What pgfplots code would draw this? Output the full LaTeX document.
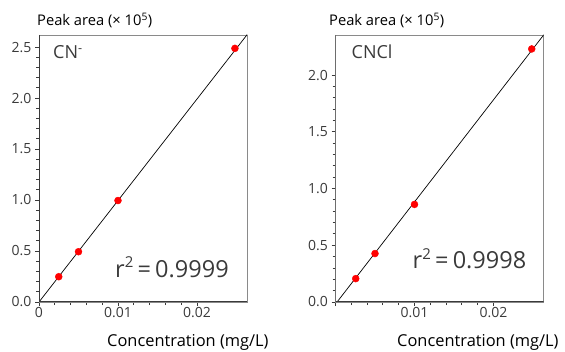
\documentclass[border=0pt]{standalone}
\usepackage{fontspec}
\setmainfont{Open Sans}
\usepackage{pgfplots}
\pgfplotsset{compat=1.18}
\definecolor{axdark}{HTML}{3A3A3A}
\definecolor{axlight}{HTML}{8A8A8A}
\definecolor{ptred}{HTML}{FF0000}
\pgfplotsset{
  calib/.style={
    scale only axis, width=208pt, height=267pt,
    anchor=south west,
    axis line style={axlight, line width=0.8pt},
    tick pos=left, tick align=outside,
    major tick length=4pt, minor tick length=3pt,
    tick style={axdark, line width=0.9pt},
    minor x tick num=4, minor y tick num=4,
    ytick={0,0.5,1.0,1.5,2.0,2.5},
    xtick={0,0.01,0.02},
    /pgf/number format/assume math mode=true,
    yticklabel style={font=\fontsize{14}{16}\selectfont, text=axdark,
      /pgf/number format/.cd, fixed, fixed zerofill, precision=1},
    xticklabel style={font=\fontsize{14}{16}\selectfont, text=axdark, inner sep=1pt},
    scaled x ticks=false, scaled y ticks=false,
    xmin=0, xmax=0.02633,
  }
}
\newcommand{\rsq}[1]{r\raisebox{0.42em}{\fontsize{15}{16}\selectfont 2}\hspace{0.18em}=\hspace{0.18em}#1}
\begin{document}
\begin{tikzpicture}[x=1pt,y=1pt]
\useasboundingbox (0,0) rectangle (565,351);
% ---------- CN- ----------
\begin{axis}[calib, at={(39pt,49pt)}, ymin=0, ymax=2.618,
  xticklabels={0,0.01,0.02}]
\addplot[black, line width=0.7pt] coordinates {(0,0) (0.0270,2.6865)};
\addplot[only marks, mark=*, mark size=3.5pt, color=ptred] coordinates {
 (0.0025,0.248) (0.005,0.493) (0.01,0.995) (0.0248,2.487)};
\draw[axdark, line width=1.8pt] (rel axis cs:0,1) -- (rel axis cs:0,0) -- (rel axis cs:1,0);
\end{axis}
% ---------- CNCl ----------
\begin{axis}[calib, at={(335.5pt,49pt)}, ymin=0, ymax=2.353,
  ytick={0,0.5,1.0,1.5,2.0},
  xticklabels={,0.01,0.02}]
\addplot[black, line width=0.7pt] coordinates {(0.0002,0) (0.0270,2.412)};
\addplot[only marks, mark=*, mark size=3.5pt, color=ptred] coordinates {
 (0.00256,0.206) (0.0050,0.427) (0.01,0.86) (0.02484,2.23)};
\draw[axdark, line width=1.8pt] (rel axis cs:0,1) -- (rel axis cs:0,0) -- (rel axis cs:1,0);
\end{axis}
% ---------- texts ----------
\node[anchor=base west, inner sep=0, font=\fontsize{14.7}{17}\selectfont] at (37,325) {Peak area (× 10\textsuperscript{5})};
\node[anchor=base west, inner sep=0, font=\fontsize{14.7}{17}\selectfont] at (329,325) {Peak area (× 10\textsuperscript{5})};
\node[anchor=base west, inner sep=0, font=\fontsize{16.4}{18}\selectfont] at (107,4.5) {Concentration (mg/L)};
\node[anchor=base west, inner sep=0, font=\fontsize{16.4}{18}\selectfont] at (397,4.5) {Concentration (mg/L)};
\node[anchor=base west, inner sep=0, font=\fontsize{18}{20}\selectfont, text=axdark] at (53,292) {CN\textsuperscript{-}};
\node[anchor=base west, inner sep=0, font=\fontsize{18}{20}\selectfont, text=axdark] at (351.5,292) {CNCl};
\node[anchor=base west, inner sep=0, font=\fontsize{23.5}{26}\selectfont, text=axdark] at (115,74) {\rsq{0.9999}};
\node[anchor=base west, inner sep=0, font=\fontsize{23.5}{26}\selectfont, text=axdark] at (412.5,82) {\rsq{0.9998}};
\end{tikzpicture}
\end{document}
